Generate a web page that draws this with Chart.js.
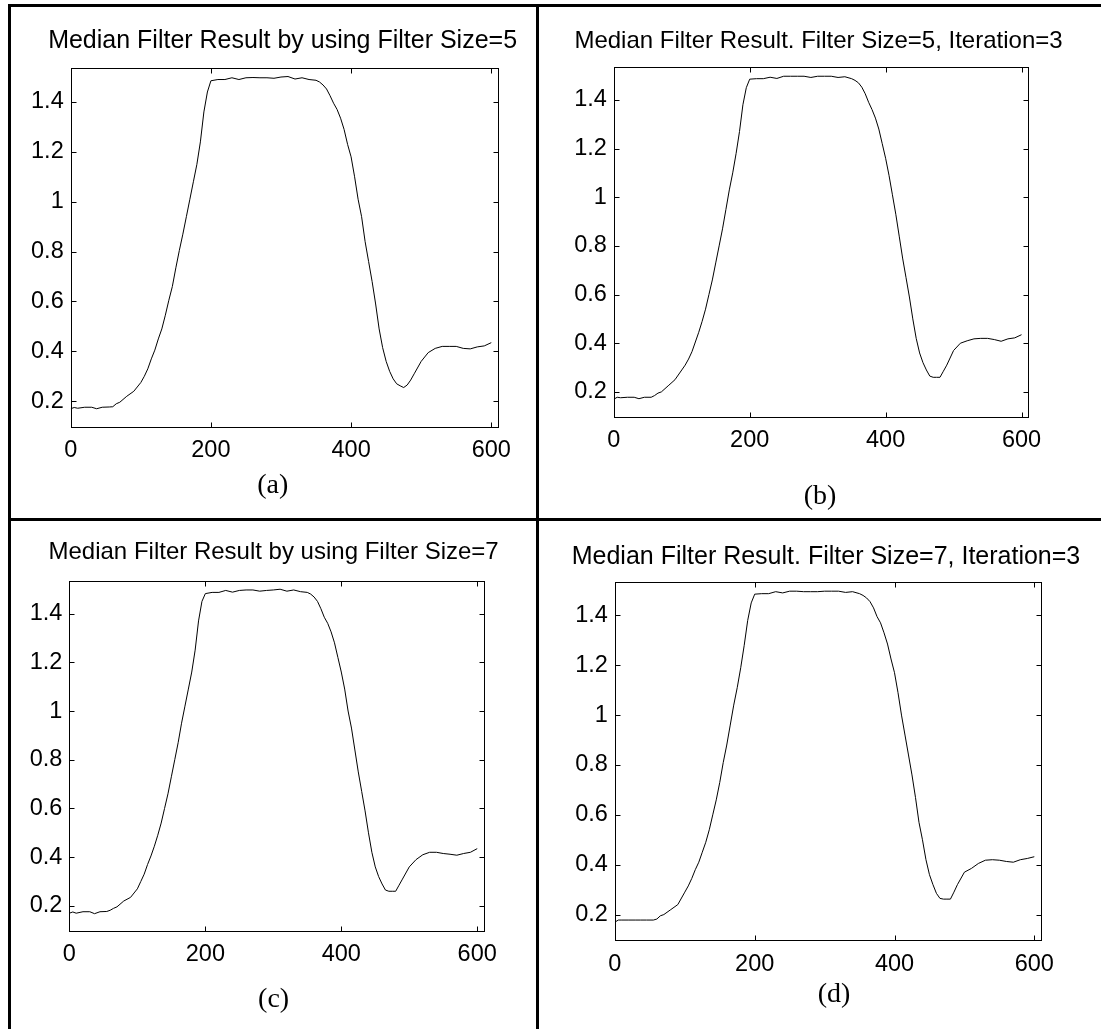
<!DOCTYPE html>
<html>
<head>
<meta charset="utf-8">
<script src="https://cdn.jsdelivr.net/npm/chart.js@4.4.1/dist/chart.umd.min.js"></script>
<style>
  body { margin: 0; background: #fff; }
  #page { position: relative; width: 1101px; height: 1029px; overflow: hidden; background: #fff; }
  #page canvas { position: absolute; }
  .rule { position: absolute; background: #000; z-index: 2; }
</style>
</head>
<body>
<div id="page">
  <canvas id="chartA" width="537" height="519" style="left:0;top:0;width:537px;height:519px"></canvas>
  <canvas id="chartB" width="564" height="519" style="left:537px;top:0;width:564px;height:519px"></canvas>
  <canvas id="chartC" width="537" height="510" style="left:0;top:519px;width:537px;height:510px"></canvas>
  <canvas id="chartD" width="564" height="510" style="left:537px;top:519px;width:564px;height:510px"></canvas>
  <div class="rule" style="left:8px;top:4px;width:1093px;height:3px"></div>
  <div class="rule" style="left:8px;top:4px;width:3px;height:1025px"></div>
  <div class="rule" style="left:536px;top:4px;width:3px;height:1025px"></div>
  <div class="rule" style="left:8px;top:518px;width:1093px;height:3px"></div>
</div>
<script>
// Eje x común (muestras)
const xs = [0, 5, 10, 20, 30, 37, 45, 55, 60, 65,
    70, 80, 90, 100, 105, 110, 115, 120, 125, 130,
    135, 140, 145, 150, 155, 160, 165, 170, 175, 180,
    185, 190, 195, 200, 210, 220, 230, 240, 250, 260,
    270, 280, 290, 300, 310, 320, 330, 340, 350, 355,
    360, 365, 370, 375, 380, 385, 390, 395, 400, 405,
    410, 415, 420, 425, 430, 435, 440, 445, 450, 455,
    460, 465, 470, 475, 480, 485, 490, 500, 510, 520,
    530, 540, 550, 560, 570, 580, 590, 600];

// (a) tamaño 5
const size5 = [0.170, 0.175, 0.172, 0.176, 0.176, 0.170, 0.176, 0.177, 0.178, 0.190,
    0.196, 0.220, 0.240, 0.275, 0.300, 0.330, 0.370, 0.405, 0.450, 0.490,
    0.545, 0.605, 0.660, 0.735, 0.805, 0.870, 0.940, 1.010, 1.080, 1.150,
    1.240, 1.360, 1.440, 1.485, 1.490, 1.490, 1.497, 1.490, 1.497, 1.498,
    1.497, 1.497, 1.495, 1.500, 1.502, 1.492, 1.497, 1.490, 1.487, 1.480,
    1.468, 1.452, 1.425, 1.395, 1.370, 1.335, 1.290, 1.230, 1.180, 1.100,
    1.010, 0.940, 0.840, 0.760, 0.680, 0.590, 0.490, 0.415, 0.360, 0.320,
    0.290, 0.270, 0.262, 0.255, 0.265, 0.285, 0.310, 0.360, 0.395, 0.412,
    0.420, 0.420, 0.420, 0.412, 0.410, 0.418, 0.422, 0.435];

// (b) tamaño 5, 3 iteraciones
const size5iter3 = [0.170, 0.178, 0.176, 0.178, 0.178, 0.172, 0.178, 0.178, 0.185, 0.195,
    0.200, 0.225, 0.250, 0.290, 0.310, 0.335, 0.365, 0.405, 0.445, 0.490,
    0.540, 0.600, 0.660, 0.730, 0.800, 0.870, 0.950, 1.030, 1.100, 1.180,
    1.270, 1.380, 1.450, 1.485, 1.487, 1.487, 1.493, 1.488, 1.497, 1.497,
    1.497, 1.497, 1.492, 1.497, 1.497, 1.497, 1.492, 1.495, 1.487, 1.480,
    1.470, 1.452, 1.425, 1.390, 1.360, 1.325, 1.280, 1.220, 1.160, 1.090,
    1.010, 0.930, 0.840, 0.750, 0.670, 0.590, 0.500, 0.420, 0.360, 0.320,
    0.290, 0.265, 0.260, 0.260, 0.260, 0.285, 0.310, 0.370, 0.400, 0.410,
    0.418, 0.420, 0.420, 0.415, 0.408, 0.418, 0.422, 0.435];

// (c) tamaño 7
const size7 = [0.170, 0.175, 0.170, 0.176, 0.176, 0.168, 0.176, 0.177, 0.182, 0.190,
    0.196, 0.220, 0.235, 0.270, 0.300, 0.330, 0.370, 0.405, 0.445, 0.490,
    0.540, 0.600, 0.660, 0.730, 0.800, 0.870, 0.950, 1.020, 1.090, 1.160,
    1.250, 1.370, 1.450, 1.482, 1.487, 1.487, 1.495, 1.488, 1.495, 1.497,
    1.497, 1.492, 1.495, 1.497, 1.500, 1.492, 1.497, 1.490, 1.487, 1.480,
    1.468, 1.450, 1.420, 1.385, 1.360, 1.325, 1.280, 1.220, 1.160, 1.090,
    1.000, 0.930, 0.840, 0.750, 0.670, 0.590, 0.500, 0.420, 0.360, 0.320,
    0.290, 0.265, 0.260, 0.260, 0.260, 0.285, 0.310, 0.360, 0.390, 0.410,
    0.420, 0.420, 0.415, 0.412, 0.408, 0.415, 0.420, 0.435];

// (d) tamaño 7, 3 iteraciones
const size7iter3 = [0.170, 0.178, 0.178, 0.178, 0.178, 0.178, 0.178, 0.178, 0.182, 0.195,
    0.200, 0.220, 0.240, 0.290, 0.315, 0.345, 0.380, 0.410, 0.450, 0.490,
    0.540, 0.600, 0.660, 0.730, 0.810, 0.880, 0.960, 1.040, 1.110, 1.190,
    1.280, 1.380, 1.450, 1.485, 1.487, 1.487, 1.495, 1.490, 1.497, 1.497,
    1.495, 1.495, 1.495, 1.497, 1.497, 1.497, 1.492, 1.495, 1.487, 1.480,
    1.470, 1.455, 1.430, 1.395, 1.370, 1.330, 1.285, 1.225, 1.170, 1.090,
    1.000, 0.920, 0.840, 0.760, 0.670, 0.570, 0.500, 0.420, 0.360, 0.320,
    0.285, 0.265, 0.262, 0.262, 0.262, 0.290, 0.320, 0.370, 0.385, 0.405,
    0.418, 0.420, 0.418, 0.413, 0.410, 0.420, 0.425, 0.432];

const xTicks = [0, 200, 400, 600];
const yTicks = [0.2, 0.4, 0.6, 0.8, 1, 1.2, 1.4];
const titles = [
    'Median Filter Result by using Filter Size=5',
    'Median Filter Result. Filter Size=5, Iteration=3',
    'Median Filter Result by using Filter Size=7',
    'Median Filter Result. Filter Size=7, Iteration=3'
];
const labels = ['(a)', '(b)', '(c)', '(d)'];

const sansFont = "'Liberation Sans', Arial, sans-serif";
const serifFont = "'Liberation Serif', 'Times New Roman', serif";

// Caja estilo MATLAB con marcas hacia dentro
const matlabBox = {
    id: 'matlabBox',
    afterDatasetsDraw(chart) {
        const { ctx, chartArea: a, scales } = chart;
        const l = Math.round(a.left) + 0.5, r = Math.round(a.right) - 0.5;
        const t = Math.round(a.top) + 0.5, b = Math.round(a.bottom) - 0.5;
        const len = 5;
        ctx.save();
        ctx.strokeStyle = '#000';
        ctx.lineWidth = 1;
        ctx.strokeRect(l, t, r - l, b - t);
        ctx.beginPath();
        scales.x.ticks.forEach(tk => {
            const px = Math.round(scales.x.getPixelForValue(tk.value)) + 0.5;
            ctx.moveTo(px, b); ctx.lineTo(px, b - len);
            ctx.moveTo(px, t); ctx.lineTo(px, t + len);
        });
        scales.y.ticks.forEach(tk => {
            const py = Math.round(scales.y.getPixelForValue(tk.value)) + 0.5;
            ctx.moveTo(l, py); ctx.lineTo(l + len, py);
            ctx.moveTo(r, py); ctx.lineTo(r - len, py);
        });
        ctx.stroke();
        ctx.restore();
    }
};

// Rótulo (a), (b)... debajo de cada gráfico
const panelLabel = {
    id: 'panelLabel',
    afterDraw(chart, args, opts) {
        const ctx = chart.ctx;
        ctx.save();
        ctx.font = opts.size + 'px ' + serifFont;
        ctx.fillStyle = '#000';
        ctx.textAlign = 'center';
        ctx.textBaseline = 'middle';
        ctx.fillText(opts.text, opts.x, opts.y);
        ctx.restore();
    }
};

function makeChart(id, title, label, values, lay) {
    const canvas = document.getElementById(id);
    const W = canvas.width, H = canvas.height;
    // centrar el título con el relleno y un eje derecho vacío
    const pl = lay.pl;
    const pr = W - (2 * lay.titleX - pl);
    const rightW = W - pr - lay.R;
    const titleLH = lay.titleSize * 1.2;
    const tp = lay.titleMid - titleLH / 2;
    const tb = lay.T - titleLH - tp;

    return new Chart(canvas.getContext('2d'), {
        type: 'line',
        data: {
            datasets: [{
                data: xs.map((x, i) => ({ x: x, y: values[i] })),
                borderColor: '#000',
                borderWidth: 1,
                pointRadius: 0,
                tension: 0,
                fill: false
            }]
        },
        options: {
            responsive: false,
            animation: false,
            layout: { padding: { left: pl, right: pr, top: 0, bottom: 0 } },
            plugins: {
                legend: { display: false },
                tooltip: { enabled: false },
                title: {
                    display: true,
                    text: title,
                    color: '#000',
                    font: { family: sansFont, size: lay.titleSize, weight: 'normal', lineHeight: 1.2 },
                    padding: { top: tp, bottom: tb }
                },
                panelLabel: { text: label, x: lay.labelX, y: lay.labelMid, size: 28 }
            },
            scales: {
                x: {
                    type: 'linear',
                    min: 0,
                    max: 611,
                    grid: { display: false, drawTicks: false },
                    border: { display: false },
                    afterBuildTicks: axis => { axis.ticks = xTicks.map(v => ({ value: v })); },
                    afterFit: axis => { axis.height = H - lay.B; },
                    ticks: {
                        color: '#000',
                        padding: 9,
                        maxRotation: 0,
                        font: { family: sansFont, size: 23.5 },
                        callback: v => String(v)
                    }
                },
                y: {
                    type: 'linear',
                    min: 0.094,
                    max: 1.535,
                    grid: { display: false, drawTicks: false },
                    border: { display: false },
                    afterBuildTicks: axis => { axis.ticks = yTicks.map(v => ({ value: v })); },
                    afterFit: axis => { axis.width = lay.L - pl; },
                    ticks: {
                        color: '#000',
                        padding: 7,
                        font: { family: sansFont, size: 23.5 },
                        callback: v => String(Math.round(v * 10) / 10)
                    }
                },
                yRight: {
                    type: 'linear',
                    position: 'right',
                    min: 0,
                    max: 1,
                    grid: { display: false, drawTicks: false },
                    border: { display: false },
                    ticks: { display: false },
                    afterFit: axis => { axis.width = rightW; }
                }
            }
        },
        plugins: [matlabBox, panelLabel]
    });
}

document.addEventListener('DOMContentLoaded', function() {
    makeChart('chartA', titles[0], labels[0], size5,
        { pl: 29, L: 70.7, R: 499, T: 68.3, B: 427.7, titleX: 282.6, titleMid: 41.5, titleSize: 25, labelX: 272.7, labelMid: 486 });
    makeChart('chartB', titles[1], labels[1], size5iter3,
        { pl: 20, L: 76.8, R: 492, T: 67, B: 417.7, titleX: 281.5, titleMid: 41.7, titleSize: 24, labelX: 283, labelMid: 497 });
    makeChart('chartC', titles[2], labels[2], size7,
        { pl: 20, L: 69.4, R: 484.7, T: 61.7, B: 412.7, titleX: 273.6, titleMid: 33.5, titleSize: 24, labelX: 273.6, labelMid: 481 });
    makeChart('chartD', titles[3], labels[3], size7iter3,
        { pl: 25, L: 77.9, R: 505, T: 62.7, B: 422, titleX: 289, titleMid: 37.7, titleSize: 25, labelX: 297, labelMid: 476 });
});
</script>
</body>
</html>
